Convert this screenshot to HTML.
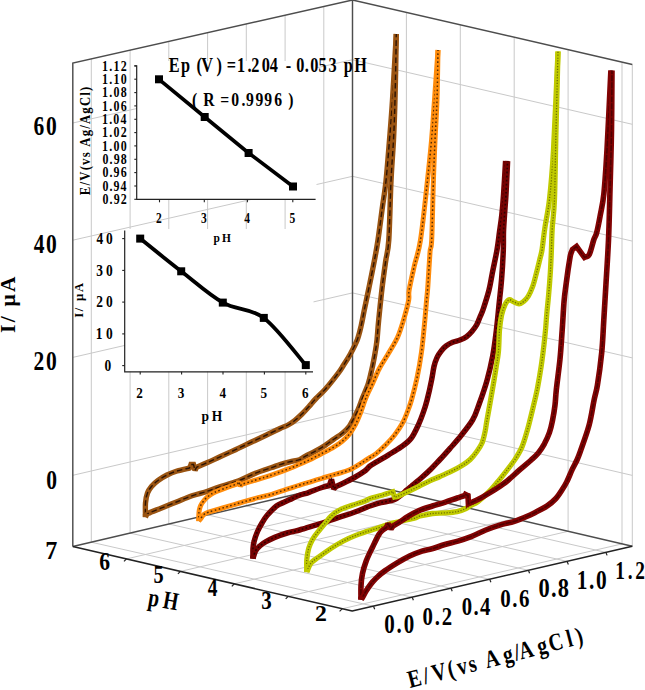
<!DOCTYPE html><html><head><meta charset="utf-8"><style>html,body{margin:0;padding:0;background:#fff;overflow:hidden}svg{display:block}</style></head><body><svg width="645" height="690" viewBox="0 0 645 690" font-family="Liberation Serif" font-weight="bold" style="font-kerning:none"><rect width="645" height="690" fill="#fff"/><g id="grid"><line x1="91.3" y1="58.8" x2="91.3" y2="542.2" stroke="#c9c9c9" stroke-width="1.0"/><line x1="130.1" y1="50.1" x2="130.1" y2="533.1" stroke="#c9c9c9" stroke-width="1.0"/><line x1="168.8" y1="41.4" x2="168.8" y2="524" stroke="#c9c9c9" stroke-width="1.0"/><line x1="207.6" y1="32.6" x2="207.6" y2="514.9" stroke="#c9c9c9" stroke-width="1.0"/><line x1="246.3" y1="23.9" x2="246.3" y2="505.9" stroke="#c9c9c9" stroke-width="1.0"/><line x1="285.1" y1="15.2" x2="285.1" y2="496.8" stroke="#c9c9c9" stroke-width="1.0"/><line x1="323.8" y1="6.5" x2="323.8" y2="487.7" stroke="#c9c9c9" stroke-width="1.0"/><line x1="406.4" y1="12.4" x2="406.4" y2="493.6" stroke="#c9c9c9" stroke-width="1.0"/><line x1="460.3" y1="24.9" x2="460.3" y2="506.2" stroke="#c9c9c9" stroke-width="1.0"/><line x1="514.2" y1="37.3" x2="514.2" y2="518.7" stroke="#c9c9c9" stroke-width="1.0"/><line x1="568.1" y1="49.7" x2="568.1" y2="531.3" stroke="#c9c9c9" stroke-width="1.0"/><line x1="622" y1="62.1" x2="622" y2="543.9" stroke="#c9c9c9" stroke-width="1.0"/><line x1="632.3" y1="64.5" x2="632.3" y2="546.3" stroke="#c9c9c9" stroke-width="1.0"/><polyline points="72.8,475.3 352.5,410.2 632.3,475.4" fill="none" stroke="#c9c9c9" stroke-width="1.0"/><polyline points="72.8,357.4 352.5,292.9 632.3,357.9" fill="none" stroke="#c9c9c9" stroke-width="1.0"/><polyline points="72.8,240.2 352.5,176.3 632.3,241.1" fill="none" stroke="#c9c9c9" stroke-width="1.0"/><polyline points="72.8,123 352.5,59.7 632.3,124.3" fill="none" stroke="#c9c9c9" stroke-width="1.0"/><line x1="91.3" y1="542.2" x2="373.5" y2="606.2" stroke="#c9c9c9" stroke-width="1.0"/><line x1="130.1" y1="533.1" x2="412.2" y2="597.2" stroke="#c9c9c9" stroke-width="1.0"/><line x1="168.8" y1="524" x2="451" y2="588.3" stroke="#c9c9c9" stroke-width="1.0"/><line x1="207.6" y1="514.9" x2="489.7" y2="579.3" stroke="#c9c9c9" stroke-width="1.0"/><line x1="246.3" y1="505.9" x2="528.4" y2="570.3" stroke="#c9c9c9" stroke-width="1.0"/><line x1="285.1" y1="496.8" x2="567.1" y2="561.4" stroke="#c9c9c9" stroke-width="1.0"/><line x1="323.8" y1="487.7" x2="605.9" y2="552.4" stroke="#c9c9c9" stroke-width="1.0"/><line x1="126.5" y1="558.9" x2="406.4" y2="493.6" stroke="#c9c9c9" stroke-width="1.0"/><line x1="180.4" y1="571.4" x2="460.3" y2="506.2" stroke="#c9c9c9" stroke-width="1.0"/><line x1="234.3" y1="583.8" x2="514.2" y2="518.7" stroke="#c9c9c9" stroke-width="1.0"/><line x1="288.2" y1="596.3" x2="568.1" y2="531.3" stroke="#c9c9c9" stroke-width="1.0"/><line x1="342.1" y1="608.8" x2="622" y2="543.9" stroke="#c9c9c9" stroke-width="1.0"/></g><rect x="137" y="61" width="179.5" height="138" fill="#fff"/><rect x="125" y="229" width="188.5" height="142.5" fill="#fff"/><g id="frame"><polyline points="72.8,546.5 72.8,63 352.5,0" fill="none" stroke="#4d4d4d" stroke-width="1.45"/><line x1="352.5" y1="0" x2="632.3" y2="64.5" stroke="#4d4d4d" stroke-width="1.45"/><line x1="352.5" y1="0" x2="352.5" y2="481" stroke="#4d4d4d" stroke-width="1.45"/><line x1="72.8" y1="546.5" x2="352.5" y2="481" stroke="#4d4d4d" stroke-width="1.45"/><line x1="352.5" y1="481" x2="632.3" y2="546.3" stroke="#4d4d4d" stroke-width="1.45"/><polyline points="72.8,546.5 352.2,611.1 632.3,546.3" fill="none" stroke="#222" stroke-width="1.5" stroke-linejoin="round"/><line x1="373.5" y1="606.2" x2="374.7" y2="609.2" stroke="#222" stroke-width="1.2"/><line x1="412.2" y1="597.2" x2="413.4" y2="600.2" stroke="#222" stroke-width="1.2"/><line x1="451" y1="588.3" x2="452.2" y2="591.3" stroke="#222" stroke-width="1.2"/><line x1="489.7" y1="579.3" x2="490.9" y2="582.3" stroke="#222" stroke-width="1.2"/><line x1="528.4" y1="570.3" x2="529.6" y2="573.3" stroke="#222" stroke-width="1.2"/><line x1="567.1" y1="561.4" x2="568.4" y2="564.4" stroke="#222" stroke-width="1.2"/><line x1="605.9" y1="552.4" x2="607.1" y2="555.4" stroke="#222" stroke-width="1.2"/><line x1="126.5" y1="558.9" x2="124" y2="561.4" stroke="#222" stroke-width="1.2"/><line x1="180.4" y1="571.4" x2="177.9" y2="573.9" stroke="#222" stroke-width="1.2"/><line x1="234.3" y1="583.8" x2="231.8" y2="586.3" stroke="#222" stroke-width="1.2"/><line x1="288.2" y1="596.3" x2="285.7" y2="598.8" stroke="#222" stroke-width="1.2"/><line x1="342.1" y1="608.8" x2="339.6" y2="611.3" stroke="#222" stroke-width="1.2"/></g><g id="curves"><path d="M396.3 34 C395.7 45 393.6 82.3 392.5 100 C391.4 117.7 390.6 126.5 389.5 140 C388.4 153.5 387.2 169.6 386 181 C384.8 192.4 383.5 198.9 382.2 208.7 C380.9 218.5 379.3 231.3 378 240 C376.7 248.7 375.8 253.2 374.3 261 C372.8 268.8 370.8 278.8 369.1 287 C367.4 295.2 365.6 303.6 364.3 310 C363 316.4 362.4 320.4 361.2 325.5 C360 330.6 358.9 335.7 357 340.5 C355.1 345.3 352.4 350.2 350.1 354.5 C347.8 358.8 345 362.8 343 366 C341 369.2 340.8 369.8 337.9 373.6 C335 377.4 329.1 384.9 325.5 389 C321.9 393.1 318.8 395.6 316 398.5 C313.2 401.4 311.3 403.9 309 406.5 C306.7 409.1 304.3 411.7 302 414 C299.7 416.3 297.3 418.5 295 420.3 C292.7 422.1 290.5 423.6 288 425 C285.5 426.4 283.6 426.8 280 428.5 C276.4 430.2 271.3 432.7 266.5 435 C261.7 437.3 256.2 439.9 251 442.3 C245.8 444.8 240.7 447.3 235.5 449.7 C230.3 452.1 224.7 454.7 220 456.8 C215.3 458.9 211.4 460.8 207.5 462.5 C203.6 464.2 198.3 466.5 196.5 467.3 C196.2 467.8 195.2 470 195 470.5 C194.8 469.5 193.8 465.5 193.5 464.5 C193.1 464.5 191.4 464.5 191 464.5 C190.8 465.1 189.8 467.4 189.5 468 C187.4 468.5 180.8 469.8 177 471 C173.2 472.2 170.2 473.4 167 475 C163.8 476.6 160.6 478.6 158 480.5 C155.4 482.4 153.2 484.4 151.5 486.5 C149.8 488.6 148.5 490.2 147.5 493 C146.5 495.8 145.8 499 145.5 503 C145.2 507 145.5 514.7 145.5 517" fill="none" stroke="#9a5412" stroke-width="5.4" stroke-linejoin="miter" stroke-miterlimit="2" stroke-linecap="butt"/><path d="M396.3 34 C395.7 45 393.6 82.3 392.5 100 C391.4 117.7 390.6 126.5 389.5 140 C388.4 153.5 387.2 169.6 386 181 C384.8 192.4 383.5 198.9 382.2 208.7 C380.9 218.5 379.3 231.3 378 240 C376.7 248.7 375.8 253.2 374.3 261 C372.8 268.8 370.8 278.8 369.1 287 C367.4 295.2 365.6 303.6 364.3 310 C363 316.4 362.4 320.4 361.2 325.5 C360 330.6 358.9 335.7 357 340.5 C355.1 345.3 352.4 350.2 350.1 354.5 C347.8 358.8 345 362.8 343 366 C341 369.2 340.8 369.8 337.9 373.6 C335 377.4 329.1 384.9 325.5 389 C321.9 393.1 318.8 395.6 316 398.5 C313.2 401.4 311.3 403.9 309 406.5 C306.7 409.1 304.3 411.7 302 414 C299.7 416.3 297.3 418.5 295 420.3 C292.7 422.1 290.5 423.6 288 425 C285.5 426.4 283.6 426.8 280 428.5 C276.4 430.2 271.3 432.7 266.5 435 C261.7 437.3 256.2 439.9 251 442.3 C245.8 444.8 240.7 447.3 235.5 449.7 C230.3 452.1 224.7 454.7 220 456.8 C215.3 458.9 211.4 460.8 207.5 462.5 C203.6 464.2 198.3 466.5 196.5 467.3 C196.2 467.8 195.2 470 195 470.5 C194.8 469.5 193.8 465.5 193.5 464.5 C193.1 464.5 191.4 464.5 191 464.5 C190.8 465.1 189.8 467.4 189.5 468 C187.4 468.5 180.8 469.8 177 471 C173.2 472.2 170.2 473.4 167 475 C163.8 476.6 160.6 478.6 158 480.5 C155.4 482.4 153.2 484.4 151.5 486.5 C149.8 488.6 148.5 490.2 147.5 493 C146.5 495.8 145.8 499 145.5 503 C145.2 507 145.5 514.7 145.5 517" fill="none" stroke="#1a0800" stroke-width="1.4" stroke-dasharray="5.5 3" opacity="0.85"/><path d="M145.5 517 C145.9 516.4 145.4 515 148 513.5 C150.6 512 156.2 510.1 161 508.2 C165.8 506.3 171.3 504.1 176.5 502 C181.7 499.9 186.8 497.6 192 495.8 C197.2 494 202.3 492.9 207.5 491.2 C212.7 489.5 217.6 487.5 223 485.7 C228.4 483.9 234.6 482.3 240 480.2 C245.4 478.1 250.3 475.3 255.5 473.2 C260.7 471.1 266.9 469.2 271 467.8 C275.1 466.4 276.9 465.6 280 464.6 C283.1 463.6 286.6 462.6 289.8 461.8 C293.1 461 296.9 460.6 299.5 459.7 C302.1 458.8 302.5 457.7 305.1 456.3 C307.7 454.9 311.6 453.2 314.9 451.4 C318.2 449.6 321.9 447.4 325 445.4 C328.1 443.4 330.8 441.3 333.7 439.3 C336.6 437.3 339.8 435.5 342.4 433.3 C345 431.1 347.4 428.8 349.3 426.3 C351.2 423.8 352.2 421.2 353.7 418.5 C355.1 415.8 356.5 413.2 358 409.8 C359.5 406.4 360.8 402.4 362.5 398 C364.2 393.6 366.7 388.3 368.3 383.5 C369.9 378.7 370.8 373.8 371.9 369 C373 364.2 373.9 359.3 374.8 354.5 C375.7 349.7 376.4 345.8 377 340 C377.6 334.2 377.8 328.8 378.7 320 C379.6 311.2 381 296.8 382.2 287 C383.4 277.2 384.6 268.8 385.7 261 C386.8 253.2 387.9 253.3 388.8 240 C389.7 226.7 390.2 197.7 391 181 C391.8 164.3 392.8 153.5 393.5 140 C394.2 126.5 394.5 117.7 395 100 C395.5 82.3 396.1 45 396.3 34" fill="none" stroke="#9a5412" stroke-width="5.4" stroke-linejoin="miter" stroke-miterlimit="2" stroke-linecap="butt"/><path d="M145.5 517 C145.9 516.4 145.4 515 148 513.5 C150.6 512 156.2 510.1 161 508.2 C165.8 506.3 171.3 504.1 176.5 502 C181.7 499.9 186.8 497.6 192 495.8 C197.2 494 202.3 492.9 207.5 491.2 C212.7 489.5 217.6 487.5 223 485.7 C228.4 483.9 234.6 482.3 240 480.2 C245.4 478.1 250.3 475.3 255.5 473.2 C260.7 471.1 266.9 469.2 271 467.8 C275.1 466.4 276.9 465.6 280 464.6 C283.1 463.6 286.6 462.6 289.8 461.8 C293.1 461 296.9 460.6 299.5 459.7 C302.1 458.8 302.5 457.7 305.1 456.3 C307.7 454.9 311.6 453.2 314.9 451.4 C318.2 449.6 321.9 447.4 325 445.4 C328.1 443.4 330.8 441.3 333.7 439.3 C336.6 437.3 339.8 435.5 342.4 433.3 C345 431.1 347.4 428.8 349.3 426.3 C351.2 423.8 352.2 421.2 353.7 418.5 C355.1 415.8 356.5 413.2 358 409.8 C359.5 406.4 360.8 402.4 362.5 398 C364.2 393.6 366.7 388.3 368.3 383.5 C369.9 378.7 370.8 373.8 371.9 369 C373 364.2 373.9 359.3 374.8 354.5 C375.7 349.7 376.4 345.8 377 340 C377.6 334.2 377.8 328.8 378.7 320 C379.6 311.2 381 296.8 382.2 287 C383.4 277.2 384.6 268.8 385.7 261 C386.8 253.2 387.9 253.3 388.8 240 C389.7 226.7 390.2 197.7 391 181 C391.8 164.3 392.8 153.5 393.5 140 C394.2 126.5 394.5 117.7 395 100 C395.5 82.3 396.1 45 396.3 34" fill="none" stroke="#1a0800" stroke-width="1.4" stroke-dasharray="5.5 3" opacity="0.85"/><rect x="142.8" y="514" width="5.4" height="3.2" fill="#9a5412"/><path d="M438 50 C437.4 58.3 435.6 84.9 434.5 100 C433.4 115.1 432.7 127.1 431.5 140.6 C430.3 154.1 429.2 164.4 427.4 181 C425.6 197.6 422.7 225.8 420.5 240 C418.3 254.2 416.2 257.6 414.3 266 C412.4 274.4 410 284.7 409.1 290.4 C408.2 296.1 409.5 295.5 408.7 300 C407.9 304.5 406.1 311.2 404.3 317.4 C402.5 323.6 400.4 330.8 397.7 337 C394.9 343.2 390.9 349.2 387.8 354.5 C384.7 359.8 381.6 364.2 379.1 369 C376.6 373.8 374.5 379.5 372.6 383.5 C370.8 387.5 369.3 390.2 368 393 C366.7 395.8 366.2 397 365 400.2 C363.8 403.4 362.3 408.3 360.7 412.4 C359.1 416.5 357.3 421 355.4 424.6 C353.5 428.2 351.5 431.4 349.3 434.1 C347.1 436.9 345 438.9 342.4 441.1 C339.8 443.3 337.1 445.1 333.7 447.2 C330.3 449.3 326.1 451.3 321.8 453.5 C317.5 455.7 312.5 458.4 307.9 460.6 C303.3 462.8 297.6 465.2 294 466.7 C290.4 468.2 290.5 468.1 286.5 469.6 C282.5 471.1 273.7 474.3 270 475.6 C266.3 476.9 267.4 476.5 264.4 477.4 C261.4 478.3 255.8 480 252 481.2 C248.2 482.4 243.2 483.8 241.5 484.3 C241.3 484.6 240.7 485.9 240.5 486.2 C240.2 485.4 238.8 482.4 238.5 481.6 C238.3 482 237.7 483.4 237.5 483.8 C235.8 484.4 231 486 227.2 487.4 C223.4 488.8 217.9 490.9 214.8 492.3 C211.7 493.7 210.5 494.6 208.6 496 C206.7 497.4 204.9 499.3 203.6 501 C202.2 502.7 201.3 504.1 200.5 506 C199.7 507.9 199.3 509.7 199 512.2 C198.7 514.7 198.8 519.5 198.8 521" fill="none" stroke="#ff8c0c" stroke-width="5.0" stroke-linejoin="miter" stroke-miterlimit="2" stroke-linecap="butt"/><path d="M438 50 C437.4 58.3 435.6 84.9 434.5 100 C433.4 115.1 432.7 127.1 431.5 140.6 C430.3 154.1 429.2 164.4 427.4 181 C425.6 197.6 422.7 225.8 420.5 240 C418.3 254.2 416.2 257.6 414.3 266 C412.4 274.4 410 284.7 409.1 290.4 C408.2 296.1 409.5 295.5 408.7 300 C407.9 304.5 406.1 311.2 404.3 317.4 C402.5 323.6 400.4 330.8 397.7 337 C394.9 343.2 390.9 349.2 387.8 354.5 C384.7 359.8 381.6 364.2 379.1 369 C376.6 373.8 374.5 379.5 372.6 383.5 C370.8 387.5 369.3 390.2 368 393 C366.7 395.8 366.2 397 365 400.2 C363.8 403.4 362.3 408.3 360.7 412.4 C359.1 416.5 357.3 421 355.4 424.6 C353.5 428.2 351.5 431.4 349.3 434.1 C347.1 436.9 345 438.9 342.4 441.1 C339.8 443.3 337.1 445.1 333.7 447.2 C330.3 449.3 326.1 451.3 321.8 453.5 C317.5 455.7 312.5 458.4 307.9 460.6 C303.3 462.8 297.6 465.2 294 466.7 C290.4 468.2 290.5 468.1 286.5 469.6 C282.5 471.1 273.7 474.3 270 475.6 C266.3 476.9 267.4 476.5 264.4 477.4 C261.4 478.3 255.8 480 252 481.2 C248.2 482.4 243.2 483.8 241.5 484.3 C241.3 484.6 240.7 485.9 240.5 486.2 C240.2 485.4 238.8 482.4 238.5 481.6 C238.3 482 237.7 483.4 237.5 483.8 C235.8 484.4 231 486 227.2 487.4 C223.4 488.8 217.9 490.9 214.8 492.3 C211.7 493.7 210.5 494.6 208.6 496 C206.7 497.4 204.9 499.3 203.6 501 C202.2 502.7 201.3 504.1 200.5 506 C199.7 507.9 199.3 509.7 199 512.2 C198.7 514.7 198.8 519.5 198.8 521" fill="none" stroke="#2a1400" stroke-width="1.5" stroke-dasharray="1.6 2.4" opacity="0.8"/><path d="M198.8 521 C199.1 520.7 199.7 520 200.5 519 C201.3 518 202.2 515.8 203.6 514.7 C204.9 513.6 205.7 513.2 208.6 512.2 C211.5 511.2 216.9 509.7 221 508.5 C225.1 507.3 229.3 506 233.4 504.8 C237.5 503.6 241.7 502.4 245.8 501.2 C249.9 500 254 498.8 258.2 497.7 C262.4 496.6 266.3 496 271 494.6 C275.7 493.2 281.3 491 286.5 489.3 C291.7 487.6 298.4 485.4 302 484.3 C305.6 483.2 304.6 483.6 307.9 482.6 C311.2 481.6 317.1 479.7 321.8 478.3 C326.5 476.9 331.2 475.6 335.8 474.2 C340.4 472.8 345.1 471.9 349.7 469.8 C354.3 467.7 360.3 463.7 363.7 461.6 C367.1 459.6 367.9 458.8 370 457.5 C372.1 456.2 373.5 455.8 376.2 453.6 C378.9 451.4 383 447.6 386.1 444.5 C389.2 441.4 392.1 438.2 394.8 434.7 C397.5 431.2 400.2 427.3 402.3 423.6 C404.4 419.9 405.7 416.3 407.2 412.4 C408.7 408.5 409.9 405.7 411.5 400 C413.1 394.3 415.3 386 417 378 C418.7 370 420.3 360.6 421.5 352 C422.7 343.4 423.4 334.8 424.3 326.1 C425.2 317.4 426 306.5 426.6 300 C427.2 293.5 427.2 295 427.8 287 C428.4 279 429.4 260 430 252.2 C430.6 244.4 431.1 251.9 431.7 240 C432.3 228.1 432.8 197.6 433.4 181 C433.9 164.4 434.4 154.1 435 140.6 C435.6 127.1 436.5 115.1 437 100 C437.5 84.9 437.8 58.3 438 50" fill="none" stroke="#ff8c0c" stroke-width="5.0" stroke-linejoin="miter" stroke-miterlimit="2" stroke-linecap="butt"/><path d="M198.8 521 C199.1 520.7 199.7 520 200.5 519 C201.3 518 202.2 515.8 203.6 514.7 C204.9 513.6 205.7 513.2 208.6 512.2 C211.5 511.2 216.9 509.7 221 508.5 C225.1 507.3 229.3 506 233.4 504.8 C237.5 503.6 241.7 502.4 245.8 501.2 C249.9 500 254 498.8 258.2 497.7 C262.4 496.6 266.3 496 271 494.6 C275.7 493.2 281.3 491 286.5 489.3 C291.7 487.6 298.4 485.4 302 484.3 C305.6 483.2 304.6 483.6 307.9 482.6 C311.2 481.6 317.1 479.7 321.8 478.3 C326.5 476.9 331.2 475.6 335.8 474.2 C340.4 472.8 345.1 471.9 349.7 469.8 C354.3 467.7 360.3 463.7 363.7 461.6 C367.1 459.6 367.9 458.8 370 457.5 C372.1 456.2 373.5 455.8 376.2 453.6 C378.9 451.4 383 447.6 386.1 444.5 C389.2 441.4 392.1 438.2 394.8 434.7 C397.5 431.2 400.2 427.3 402.3 423.6 C404.4 419.9 405.7 416.3 407.2 412.4 C408.7 408.5 409.9 405.7 411.5 400 C413.1 394.3 415.3 386 417 378 C418.7 370 420.3 360.6 421.5 352 C422.7 343.4 423.4 334.8 424.3 326.1 C425.2 317.4 426 306.5 426.6 300 C427.2 293.5 427.2 295 427.8 287 C428.4 279 429.4 260 430 252.2 C430.6 244.4 431.1 251.9 431.7 240 C432.3 228.1 432.8 197.6 433.4 181 C433.9 164.4 434.4 154.1 435 140.6 C435.6 127.1 436.5 115.1 437 100 C437.5 84.9 437.8 58.3 438 50" fill="none" stroke="#2a1400" stroke-width="1.5" stroke-dasharray="1.6 2.4" opacity="0.8"/><rect x="196.3" y="518" width="5" height="3.2" fill="#ff8c0c"/><path d="M505.6 161 C505.3 166.5 504.2 185 503.6 194 C503 203 502.5 208.7 501.8 215 C501.1 221.3 500.3 226.2 499.5 232 C498.7 237.8 498.2 243.1 497 250 C495.8 256.9 493.6 266.5 492.3 273.2 C491 279.9 490.5 284.1 489 290 C487.5 295.9 484.8 304.3 483.3 308.8 C481.8 313.3 481.1 314.4 480 317 C478.9 319.6 478 322.3 476.7 324.7 C475.4 327.1 473.8 329.2 472.1 331.2 C470.4 333.2 468.5 335.2 466.5 336.7 C464.5 338.2 462.3 339.1 460 340 C457.7 340.9 454.9 341.3 452.6 342.3 C450.3 343.3 447.9 344.6 446 346 C444.1 347.4 442.9 348.8 441.4 350.7 C439.9 352.6 438.4 354.6 437.2 357.2 C436 359.8 434.9 362.7 434 366.5 C433.1 370.3 432.8 374.4 431.6 380 C430.5 385.6 428.5 394.6 427.1 400 C425.7 405.4 424.8 408.3 423.3 412.4 C421.9 416.5 420.4 420.4 418.4 424.8 C416.3 429.2 413.9 434.8 411 438.5 C408.1 442.2 404.7 444.3 401 447 C397.3 449.7 392.7 452.3 388.6 454.8 C384.5 457.3 379.3 460.3 376.2 462.2 C373.1 464.1 372 464.5 370 466 C368 467.5 367 469.4 364.4 471.3 C361.8 473.2 358.5 475.2 354.4 477.5 C350.3 479.8 343 483.3 340 484.8 C337 486.3 337.1 486.1 336.5 486.3 C336.1 486.7 334.2 488.4 333.8 488.8 C333.4 487.2 331.9 481.1 331.5 479.5 C331.1 480.5 329.7 484.5 329.3 485.5 C328.1 485.8 324.5 486.7 322 487.5 C319.5 488.3 316.8 489.3 314.4 490.2 C312 491.1 310.5 491.9 307.9 492.8 C305.3 493.7 301.9 494.4 298.9 495.5 C295.9 496.6 292.6 498.3 290 499.5 C287.4 500.7 285.6 501.4 283.4 502.5 C281.1 503.6 279.2 503.9 276.5 506 C273.8 508.1 269.6 512.5 267.2 515.3 C264.8 518.1 263.6 520.3 262 523 C260.4 525.7 258.8 528.5 257.5 531.5 C256.2 534.5 254.9 538.3 254.2 541.1 C253.4 543.9 253.2 545.6 253 548.5 C252.8 551.4 253 556.8 253 558.5" fill="none" stroke="#760202" stroke-width="5.5" stroke-linejoin="miter" stroke-miterlimit="2" stroke-linecap="butt"/><path d="M505.6 161 C505.3 166.5 504.2 185 503.6 194 C503 203 502.5 208.7 501.8 215 C501.1 221.3 500.3 226.2 499.5 232 C498.7 237.8 498.2 243.1 497 250 C495.8 256.9 493.6 266.5 492.3 273.2 C491 279.9 490.5 284.1 489 290 C487.5 295.9 484.8 304.3 483.3 308.8 C481.8 313.3 481.1 314.4 480 317 C478.9 319.6 478 322.3 476.7 324.7 C475.4 327.1 473.8 329.2 472.1 331.2 C470.4 333.2 468.5 335.2 466.5 336.7 C464.5 338.2 462.3 339.1 460 340 C457.7 340.9 454.9 341.3 452.6 342.3 C450.3 343.3 447.9 344.6 446 346 C444.1 347.4 442.9 348.8 441.4 350.7 C439.9 352.6 438.4 354.6 437.2 357.2 C436 359.8 434.9 362.7 434 366.5 C433.1 370.3 432.8 374.4 431.6 380 C430.5 385.6 428.5 394.6 427.1 400 C425.7 405.4 424.8 408.3 423.3 412.4 C421.9 416.5 420.4 420.4 418.4 424.8 C416.3 429.2 413.9 434.8 411 438.5 C408.1 442.2 404.7 444.3 401 447 C397.3 449.7 392.7 452.3 388.6 454.8 C384.5 457.3 379.3 460.3 376.2 462.2 C373.1 464.1 372 464.5 370 466 C368 467.5 367 469.4 364.4 471.3 C361.8 473.2 358.5 475.2 354.4 477.5 C350.3 479.8 343 483.3 340 484.8 C337 486.3 337.1 486.1 336.5 486.3 C336.1 486.7 334.2 488.4 333.8 488.8 C333.4 487.2 331.9 481.1 331.5 479.5 C331.1 480.5 329.7 484.5 329.3 485.5 C328.1 485.8 324.5 486.7 322 487.5 C319.5 488.3 316.8 489.3 314.4 490.2 C312 491.1 310.5 491.9 307.9 492.8 C305.3 493.7 301.9 494.4 298.9 495.5 C295.9 496.6 292.6 498.3 290 499.5 C287.4 500.7 285.6 501.4 283.4 502.5 C281.1 503.6 279.2 503.9 276.5 506 C273.8 508.1 269.6 512.5 267.2 515.3 C264.8 518.1 263.6 520.3 262 523 C260.4 525.7 258.8 528.5 257.5 531.5 C256.2 534.5 254.9 538.3 254.2 541.1 C253.4 543.9 253.2 545.6 253 548.5 C252.8 551.4 253 556.8 253 558.5" fill="none" stroke="#1a0000" stroke-width="1.6" stroke-dasharray="1.8 2.2" opacity="0.8"/><path d="M253 558.5 C253.4 557.2 254.4 553.1 255.5 551 C256.6 548.9 258.1 547.5 259.8 546 C261.6 544.5 263.5 543.1 266 541.7 C268.5 540.3 271.2 538.9 274.7 537.4 C278.2 535.9 283 534.2 287.1 533 C291.2 531.8 296.5 530.8 299.5 530 C302.5 529.2 301.5 529.3 305 528.3 C308.5 527.2 315.3 525.4 320.5 523.7 C325.7 522 331.9 519.7 336 518.3 C340.1 516.9 341.8 516.4 345 515.4 C348.2 514.4 351.8 513.2 355 512 C358.2 510.8 361.9 509.3 364.4 508.3 C366.9 507.3 367.2 506.9 370 506 C372.8 505.1 376.7 503.7 380.9 502.6 C385.1 501.5 390.7 501.4 395 499.3 C399.3 497.2 404.2 492.2 406.9 490 C409.6 487.8 408.8 488.4 411.3 486.3 C413.8 484.2 418.7 480.2 422 477.3 C425.3 474.4 428 472 431 469 C434 466 436.8 462.9 440 459.5 C443.2 456.1 446.9 451.9 450 448.4 C453.1 444.9 454.8 443.3 458.6 438.6 C462.4 433.9 469.1 425.9 472.6 420 C476.1 414.1 477.1 409.6 479.5 403 C481.9 396.4 484.8 388.2 487 380.4 C489.2 372.6 491.1 364.4 492.7 356 C494.3 347.6 495.3 339 496.4 330 C497.5 321 498.4 310.6 499.3 302.1 C500.2 293.6 500.9 287.7 501.6 279 C502.3 270.3 503 257.8 503.3 250 C503.6 242.2 503.3 237.8 503.5 232 C503.7 226.2 504.1 221.3 504.5 215 C504.9 208.7 505.5 203 506 194 C506.5 185 507.3 166.5 507.6 161" fill="none" stroke="#760202" stroke-width="5.5" stroke-linejoin="miter" stroke-miterlimit="2" stroke-linecap="butt"/><path d="M253 558.5 C253.4 557.2 254.4 553.1 255.5 551 C256.6 548.9 258.1 547.5 259.8 546 C261.6 544.5 263.5 543.1 266 541.7 C268.5 540.3 271.2 538.9 274.7 537.4 C278.2 535.9 283 534.2 287.1 533 C291.2 531.8 296.5 530.8 299.5 530 C302.5 529.2 301.5 529.3 305 528.3 C308.5 527.2 315.3 525.4 320.5 523.7 C325.7 522 331.9 519.7 336 518.3 C340.1 516.9 341.8 516.4 345 515.4 C348.2 514.4 351.8 513.2 355 512 C358.2 510.8 361.9 509.3 364.4 508.3 C366.9 507.3 367.2 506.9 370 506 C372.8 505.1 376.7 503.7 380.9 502.6 C385.1 501.5 390.7 501.4 395 499.3 C399.3 497.2 404.2 492.2 406.9 490 C409.6 487.8 408.8 488.4 411.3 486.3 C413.8 484.2 418.7 480.2 422 477.3 C425.3 474.4 428 472 431 469 C434 466 436.8 462.9 440 459.5 C443.2 456.1 446.9 451.9 450 448.4 C453.1 444.9 454.8 443.3 458.6 438.6 C462.4 433.9 469.1 425.9 472.6 420 C476.1 414.1 477.1 409.6 479.5 403 C481.9 396.4 484.8 388.2 487 380.4 C489.2 372.6 491.1 364.4 492.7 356 C494.3 347.6 495.3 339 496.4 330 C497.5 321 498.4 310.6 499.3 302.1 C500.2 293.6 500.9 287.7 501.6 279 C502.3 270.3 503 257.8 503.3 250 C503.6 242.2 503.3 237.8 503.5 232 C503.7 226.2 504.1 221.3 504.5 215 C504.9 208.7 505.5 203 506 194 C506.5 185 507.3 166.5 507.6 161" fill="none" stroke="#1a0000" stroke-width="1.6" stroke-dasharray="1.8 2.2" opacity="0.8"/><rect x="250.2" y="555.5" width="5.5" height="3.2" fill="#760202"/><path d="M558 51.5 C557.2 67.9 554.9 125.4 553.5 150 C552.1 174.6 551 185.9 549.5 199 C548 212.1 546 220 544.8 228.5 C543.5 237 542.8 244.9 542 250 C541.2 255.1 540.7 255.4 539.8 259.3 C538.9 263.2 537.5 268.8 536.4 273.2 C535.2 277.6 534.3 282 532.9 285.9 C531.5 289.8 529.8 293.7 528.2 296.3 C526.7 298.9 525.1 300.3 523.6 301.6 C522.1 302.9 520.7 303.9 519 303.9 C517.3 303.9 514.9 302.3 513.2 301.6 C511.6 300.9 510.5 299.3 509.1 299.8 C507.8 300.3 506.4 302 505.1 304.5 C503.9 307 502.5 310.6 501.6 314.9 C500.7 319.1 500 323.8 499.5 330 C499 336.2 499 345.8 498.4 352.1 C497.8 358.4 496.9 362 496 368 C495.1 374 494.2 379.3 492.7 388 C491.2 396.7 488.3 412.7 487 420 C485.7 427.3 485.9 428.1 485 432 C484.1 435.9 483.3 440 481.9 443.3 C480.5 446.6 478.4 449.3 476.5 452 C474.6 454.7 472.6 457.2 470.2 459.5 C467.8 461.8 465.1 463.6 462 465.5 C458.9 467.4 455.3 469.4 451.6 471.2 C447.9 473 443.6 474.9 440 476.5 C436.4 478.1 433.2 479.3 429.7 480.9 C426.2 482.5 422.5 484.5 418.9 486.3 C415.3 488.1 411.6 490 408 491.7 C404.4 493.4 398.9 495.8 397.1 496.6 C396.7 496.7 395 496.9 394.6 497 C394.3 496.1 393.1 492.6 392.8 491.7 C390.8 492.3 384.7 494.4 380.9 495.5 C377.1 496.6 372.8 497.7 370 498.6 C367.2 499.6 367.4 500.1 364.4 501.2 C361.4 502.3 356.2 503.8 352.1 505.3 C348 506.8 343.2 508.2 339.7 510 C336.2 511.8 333.5 513.9 331 516.2 C328.5 518.5 326.9 521.1 324.8 523.6 C322.7 526.1 320.7 528.4 318.6 531.1 C316.5 533.8 314 536.8 312.4 539.7 C310.8 542.6 309.6 545.1 308.7 548.4 C307.8 551.7 307.1 555.7 306.8 559.6 C306.5 563.5 306.8 569.9 306.8 572" fill="none" stroke="#c0ca00" stroke-width="5.3" stroke-linejoin="miter" stroke-miterlimit="2" stroke-linecap="butt"/><path d="M558 51.5 C557.2 67.9 554.9 125.4 553.5 150 C552.1 174.6 551 185.9 549.5 199 C548 212.1 546 220 544.8 228.5 C543.5 237 542.8 244.9 542 250 C541.2 255.1 540.7 255.4 539.8 259.3 C538.9 263.2 537.5 268.8 536.4 273.2 C535.2 277.6 534.3 282 532.9 285.9 C531.5 289.8 529.8 293.7 528.2 296.3 C526.7 298.9 525.1 300.3 523.6 301.6 C522.1 302.9 520.7 303.9 519 303.9 C517.3 303.9 514.9 302.3 513.2 301.6 C511.6 300.9 510.5 299.3 509.1 299.8 C507.8 300.3 506.4 302 505.1 304.5 C503.9 307 502.5 310.6 501.6 314.9 C500.7 319.1 500 323.8 499.5 330 C499 336.2 499 345.8 498.4 352.1 C497.8 358.4 496.9 362 496 368 C495.1 374 494.2 379.3 492.7 388 C491.2 396.7 488.3 412.7 487 420 C485.7 427.3 485.9 428.1 485 432 C484.1 435.9 483.3 440 481.9 443.3 C480.5 446.6 478.4 449.3 476.5 452 C474.6 454.7 472.6 457.2 470.2 459.5 C467.8 461.8 465.1 463.6 462 465.5 C458.9 467.4 455.3 469.4 451.6 471.2 C447.9 473 443.6 474.9 440 476.5 C436.4 478.1 433.2 479.3 429.7 480.9 C426.2 482.5 422.5 484.5 418.9 486.3 C415.3 488.1 411.6 490 408 491.7 C404.4 493.4 398.9 495.8 397.1 496.6 C396.7 496.7 395 496.9 394.6 497 C394.3 496.1 393.1 492.6 392.8 491.7 C390.8 492.3 384.7 494.4 380.9 495.5 C377.1 496.6 372.8 497.7 370 498.6 C367.2 499.6 367.4 500.1 364.4 501.2 C361.4 502.3 356.2 503.8 352.1 505.3 C348 506.8 343.2 508.2 339.7 510 C336.2 511.8 333.5 513.9 331 516.2 C328.5 518.5 326.9 521.1 324.8 523.6 C322.7 526.1 320.7 528.4 318.6 531.1 C316.5 533.8 314 536.8 312.4 539.7 C310.8 542.6 309.6 545.1 308.7 548.4 C307.8 551.7 307.1 555.7 306.8 559.6 C306.5 563.5 306.8 569.9 306.8 572" fill="none" stroke="#4a4a00" stroke-width="1.3" stroke-dasharray="1.2 1.6" opacity="0.7"/><path d="M306.8 572 C307.5 570.5 309 565.5 311 563 C313 560.5 315.3 559.5 318.6 557.1 C321.9 554.7 326.9 551.1 331 548.4 C335.1 545.7 339.3 543.2 343.4 541 C347.5 538.8 351.7 537 355.8 535.4 C359.9 533.8 364.2 532.5 368.2 531.1 C372.2 529.8 376.1 528.6 380 527.3 C383.9 526 386.1 524.8 391.7 523.3 C397.3 521.8 408.7 519.7 413.4 518.5 C418.1 517.3 416.8 516.8 420 516 C423.2 515.2 428.3 514 432.4 513.5 C436.5 513 440.7 513.2 444.8 512.9 C448.9 512.6 453.7 512.3 457.2 511.6 C460.7 510.9 463.8 509.5 465.9 508.5 C468 507.5 468 507 470 505.8 C472 504.6 474.9 503.8 478 501.5 C481.1 499.2 485.4 495.4 488.6 492.2 C491.8 489 494.2 486 497.3 482.3 C500.4 478.6 504.3 473.6 507.2 469.9 C510.1 466.2 512.2 463.7 514.7 459.9 C517.2 456.1 519.9 451.9 522 446.9 C524.1 441.9 525.5 436.7 527.4 430 C529.3 423.3 531.5 413.8 533.2 406.8 C534.9 399.8 536.2 394.8 537.5 388 C538.8 381.2 540.1 373.4 541.2 366.2 C542.3 358.9 543.3 350.5 544 344.5 C544.7 338.5 545 335.1 545.5 330 C546 324.9 546.3 319.3 546.8 313.7 C547.3 308.1 547.9 303.1 548.5 296.3 C549.1 289.6 549.8 280.9 550.3 273.2 C550.8 265.5 551.1 257.4 551.4 250 C551.7 242.6 551.7 237 552.2 228.5 C552.7 220 553.9 215.4 554.5 199 C555.1 182.6 555.4 154.6 556 130 C556.6 105.4 557.7 64.6 558 51.5" fill="none" stroke="#c0ca00" stroke-width="5.3" stroke-linejoin="miter" stroke-miterlimit="2" stroke-linecap="butt"/><path d="M306.8 572 C307.5 570.5 309 565.5 311 563 C313 560.5 315.3 559.5 318.6 557.1 C321.9 554.7 326.9 551.1 331 548.4 C335.1 545.7 339.3 543.2 343.4 541 C347.5 538.8 351.7 537 355.8 535.4 C359.9 533.8 364.2 532.5 368.2 531.1 C372.2 529.8 376.1 528.6 380 527.3 C383.9 526 386.1 524.8 391.7 523.3 C397.3 521.8 408.7 519.7 413.4 518.5 C418.1 517.3 416.8 516.8 420 516 C423.2 515.2 428.3 514 432.4 513.5 C436.5 513 440.7 513.2 444.8 512.9 C448.9 512.6 453.7 512.3 457.2 511.6 C460.7 510.9 463.8 509.5 465.9 508.5 C468 507.5 468 507 470 505.8 C472 504.6 474.9 503.8 478 501.5 C481.1 499.2 485.4 495.4 488.6 492.2 C491.8 489 494.2 486 497.3 482.3 C500.4 478.6 504.3 473.6 507.2 469.9 C510.1 466.2 512.2 463.7 514.7 459.9 C517.2 456.1 519.9 451.9 522 446.9 C524.1 441.9 525.5 436.7 527.4 430 C529.3 423.3 531.5 413.8 533.2 406.8 C534.9 399.8 536.2 394.8 537.5 388 C538.8 381.2 540.1 373.4 541.2 366.2 C542.3 358.9 543.3 350.5 544 344.5 C544.7 338.5 545 335.1 545.5 330 C546 324.9 546.3 319.3 546.8 313.7 C547.3 308.1 547.9 303.1 548.5 296.3 C549.1 289.6 549.8 280.9 550.3 273.2 C550.8 265.5 551.1 257.4 551.4 250 C551.7 242.6 551.7 237 552.2 228.5 C552.7 220 553.9 215.4 554.5 199 C555.1 182.6 555.4 154.6 556 130 C556.6 105.4 557.7 64.6 558 51.5" fill="none" stroke="#4a4a00" stroke-width="1.3" stroke-dasharray="1.2 1.6" opacity="0.7"/><rect x="304.2" y="569" width="5.3" height="3.2" fill="#c0ca00"/><path d="M610.9 70.5 C610.2 83.8 608.2 129.5 607 150 C605.8 170.5 605 182.7 603.9 193.5 C602.8 204.3 601.5 208.4 600.3 215 C599.1 221.6 597.7 228.8 596.6 233 C595.5 237.2 594.9 236.4 593.7 240 C592.5 243.6 590.8 251.6 589.3 254.5 C587.8 257.4 585.2 256.8 584.4 257.3 C583.1 255.5 577.8 248.3 576.5 246.5 C575.8 247 573.2 249 572.5 249.5 C572.2 250.4 571.2 251.7 570.5 255 C569.8 258.3 568.9 264.5 568.1 269.5 C567.4 274.5 566.7 279.6 566 285 C565.3 290.4 564.6 294.5 564 302 C563.4 309.5 562.9 320.5 562.2 330 C561.5 339.5 561 349 560 359 C559 369 557.1 382.3 556.3 390 C555.5 397.7 555.6 400.1 555 405.2 C554.4 410.3 553.4 415.9 552.5 420.5 C551.6 425.1 550.8 428.7 549.4 432.6 C548 436.5 546.2 440.4 544.4 443.8 C542.5 447.2 540.5 450.3 538.3 453 C536.1 455.7 534.3 457.2 531.2 460 C528.1 462.8 523.6 466.4 519.6 469.9 C515.6 473.4 511.3 477.7 507.2 481 C503.1 484.3 498.9 487 494.8 489.7 C490.7 492.4 485.6 495.3 482.4 497.1 C479.2 498.9 478.1 499.4 475.8 500.5 C473.5 501.6 469.6 503.2 468.4 503.8 C468.3 502.4 468.1 496.9 468 495.5 C467.6 495.3 465.9 494.7 465.5 494.5 C465.4 494.7 464.8 495.3 464.7 495.5 C463.4 495.9 460.5 496.9 457.2 498 C453.9 499.1 448.9 501 444.8 502.3 C440.7 503.6 436.7 504.6 432.4 506 C428.1 507.4 423 508.9 418.9 510.6 C414.8 512.4 411.3 514.5 408 516.5 C404.7 518.5 401.7 520.7 399.2 522.3 C396.7 523.9 394 525.4 393 526 C392.7 526.5 391.3 528.5 391 529 C390.5 528.1 388.5 524.4 388 523.5 C387.8 524.2 386.8 526.8 386.5 527.5 C385.8 528 383.8 529 382.5 530.3 C381.2 531.5 380.3 532.1 378.6 535 C376.9 537.9 374.5 543.1 372.4 547.4 C370.3 551.7 367.8 556.7 366.2 561 C364.6 565.3 363.4 569.2 362.5 573.4 C361.6 577.6 361.2 581.6 361 586 C360.8 590.4 361 597.2 361 599.5" fill="none" stroke="#820303" stroke-width="5.6" stroke-linejoin="miter" stroke-miterlimit="2" stroke-linecap="butt"/><path d="M610.9 70.5 C610.2 83.8 608.2 129.5 607 150 C605.8 170.5 605 182.7 603.9 193.5 C602.8 204.3 601.5 208.4 600.3 215 C599.1 221.6 597.7 228.8 596.6 233 C595.5 237.2 594.9 236.4 593.7 240 C592.5 243.6 590.8 251.6 589.3 254.5 C587.8 257.4 585.2 256.8 584.4 257.3 C583.1 255.5 577.8 248.3 576.5 246.5 C575.8 247 573.2 249 572.5 249.5 C572.2 250.4 571.2 251.7 570.5 255 C569.8 258.3 568.9 264.5 568.1 269.5 C567.4 274.5 566.7 279.6 566 285 C565.3 290.4 564.6 294.5 564 302 C563.4 309.5 562.9 320.5 562.2 330 C561.5 339.5 561 349 560 359 C559 369 557.1 382.3 556.3 390 C555.5 397.7 555.6 400.1 555 405.2 C554.4 410.3 553.4 415.9 552.5 420.5 C551.6 425.1 550.8 428.7 549.4 432.6 C548 436.5 546.2 440.4 544.4 443.8 C542.5 447.2 540.5 450.3 538.3 453 C536.1 455.7 534.3 457.2 531.2 460 C528.1 462.8 523.6 466.4 519.6 469.9 C515.6 473.4 511.3 477.7 507.2 481 C503.1 484.3 498.9 487 494.8 489.7 C490.7 492.4 485.6 495.3 482.4 497.1 C479.2 498.9 478.1 499.4 475.8 500.5 C473.5 501.6 469.6 503.2 468.4 503.8 C468.3 502.4 468.1 496.9 468 495.5 C467.6 495.3 465.9 494.7 465.5 494.5 C465.4 494.7 464.8 495.3 464.7 495.5 C463.4 495.9 460.5 496.9 457.2 498 C453.9 499.1 448.9 501 444.8 502.3 C440.7 503.6 436.7 504.6 432.4 506 C428.1 507.4 423 508.9 418.9 510.6 C414.8 512.4 411.3 514.5 408 516.5 C404.7 518.5 401.7 520.7 399.2 522.3 C396.7 523.9 394 525.4 393 526 C392.7 526.5 391.3 528.5 391 529 C390.5 528.1 388.5 524.4 388 523.5 C387.8 524.2 386.8 526.8 386.5 527.5 C385.8 528 383.8 529 382.5 530.3 C381.2 531.5 380.3 532.1 378.6 535 C376.9 537.9 374.5 543.1 372.4 547.4 C370.3 551.7 367.8 556.7 366.2 561 C364.6 565.3 363.4 569.2 362.5 573.4 C361.6 577.6 361.2 581.6 361 586 C360.8 590.4 361 597.2 361 599.5" fill="none" stroke="#3a0000" stroke-width="1.6" stroke-dasharray="6 1" opacity="0.7"/><path d="M361 599.5 C361.2 599.2 361.6 599.1 362.5 597.6 C363.4 596.1 364.6 593.4 366.2 590.8 C367.8 588.2 370.3 584.6 372.4 582.1 C374.5 579.6 376.5 577.8 378.6 575.9 C380.7 574 381.7 573.1 384.8 570.9 C387.9 568.7 393.1 565.4 397.2 562.9 C401.3 560.4 405.5 558 409.6 556 C413.7 554 418.3 552.3 422 551.1 C425.7 549.9 428.3 549.8 432 548.8 C435.7 547.8 439.7 546.1 444 544.8 C448.3 543.5 453.3 542.5 457.9 541.1 C462.5 539.7 467.1 538.1 471.8 536.3 C476.5 534.4 481.2 531.9 485.8 530 C490.4 528.1 495 526.5 499.7 525.1 C504.4 523.7 509.9 522.7 513.7 521.6 C517.5 520.5 518.9 519.8 522.4 518.3 C525.9 516.8 530.7 514.8 534.8 512.7 C538.9 510.6 543.7 508.3 547.2 505.9 C550.7 503.5 553.4 501.2 555.9 498.5 C558.4 495.8 560.2 492.7 562.1 489.8 C564 486.9 565.5 484.4 567.1 481.1 C568.8 477.8 570.4 473.4 572 469.9 C573.6 466.4 575.6 463.1 577 460 C578.4 456.9 578.4 456.9 580.4 451.2 C582.4 445.5 586.7 434.1 589 425.6 C591.3 417.1 592.7 406.7 594.1 400 C595.5 393.3 596.1 393.1 597.4 385.2 C598.7 377.3 600.6 363.5 601.7 352.6 C602.8 341.7 603.1 331.5 603.8 320 C604.5 308.5 605.2 296.8 606 283.5 C606.8 270.2 607.8 255.6 608.5 240 C609.2 224.4 609.5 208.3 610 190 C610.5 171.7 611.2 149.9 611.5 130 C611.8 110.1 611.9 80.4 612 70.5" fill="none" stroke="#820303" stroke-width="5.6" stroke-linejoin="miter" stroke-miterlimit="2" stroke-linecap="butt"/><path d="M361 599.5 C361.2 599.2 361.6 599.1 362.5 597.6 C363.4 596.1 364.6 593.4 366.2 590.8 C367.8 588.2 370.3 584.6 372.4 582.1 C374.5 579.6 376.5 577.8 378.6 575.9 C380.7 574 381.7 573.1 384.8 570.9 C387.9 568.7 393.1 565.4 397.2 562.9 C401.3 560.4 405.5 558 409.6 556 C413.7 554 418.3 552.3 422 551.1 C425.7 549.9 428.3 549.8 432 548.8 C435.7 547.8 439.7 546.1 444 544.8 C448.3 543.5 453.3 542.5 457.9 541.1 C462.5 539.7 467.1 538.1 471.8 536.3 C476.5 534.4 481.2 531.9 485.8 530 C490.4 528.1 495 526.5 499.7 525.1 C504.4 523.7 509.9 522.7 513.7 521.6 C517.5 520.5 518.9 519.8 522.4 518.3 C525.9 516.8 530.7 514.8 534.8 512.7 C538.9 510.6 543.7 508.3 547.2 505.9 C550.7 503.5 553.4 501.2 555.9 498.5 C558.4 495.8 560.2 492.7 562.1 489.8 C564 486.9 565.5 484.4 567.1 481.1 C568.8 477.8 570.4 473.4 572 469.9 C573.6 466.4 575.6 463.1 577 460 C578.4 456.9 578.4 456.9 580.4 451.2 C582.4 445.5 586.7 434.1 589 425.6 C591.3 417.1 592.7 406.7 594.1 400 C595.5 393.3 596.1 393.1 597.4 385.2 C598.7 377.3 600.6 363.5 601.7 352.6 C602.8 341.7 603.1 331.5 603.8 320 C604.5 308.5 605.2 296.8 606 283.5 C606.8 270.2 607.8 255.6 608.5 240 C609.2 224.4 609.5 208.3 610 190 C610.5 171.7 611.2 149.9 611.5 130 C611.8 110.1 611.9 80.4 612 70.5" fill="none" stroke="#3a0000" stroke-width="1.6" stroke-dasharray="6 1" opacity="0.7"/><rect x="358.2" y="596.5" width="5.6" height="3.2" fill="#820303"/></g><polyline points="134.4,65.9 136.7,65.9 136.7,199.3 315.6,199.3" fill="none" stroke="#222" stroke-width="1.2"/><line x1="134.3" y1="199.3" x2="136.7" y2="199.3" stroke="#222" stroke-width="1.1"/><line x1="134.3" y1="186" x2="136.7" y2="186" stroke="#222" stroke-width="1.1"/><line x1="134.3" y1="172.6" x2="136.7" y2="172.6" stroke="#222" stroke-width="1.1"/><line x1="134.3" y1="159.3" x2="136.7" y2="159.3" stroke="#222" stroke-width="1.1"/><line x1="134.3" y1="145.9" x2="136.7" y2="145.9" stroke="#222" stroke-width="1.1"/><line x1="134.3" y1="132.6" x2="136.7" y2="132.6" stroke="#222" stroke-width="1.1"/><line x1="134.3" y1="119.3" x2="136.7" y2="119.3" stroke="#222" stroke-width="1.1"/><line x1="134.3" y1="105.9" x2="136.7" y2="105.9" stroke="#222" stroke-width="1.1"/><line x1="134.3" y1="92.6" x2="136.7" y2="92.6" stroke="#222" stroke-width="1.1"/><line x1="134.3" y1="79.2" x2="136.7" y2="79.2" stroke="#222" stroke-width="1.1"/><line x1="134.3" y1="65.9" x2="136.7" y2="65.9" stroke="#222" stroke-width="1.1"/><line x1="159.5" y1="199.3" x2="159.5" y2="202.3" stroke="#222" stroke-width="1.1"/><line x1="204.3" y1="199.3" x2="204.3" y2="202.3" stroke="#222" stroke-width="1.1"/><line x1="247.4" y1="199.3" x2="247.4" y2="202.3" stroke="#222" stroke-width="1.1"/><line x1="292.8" y1="199.3" x2="292.8" y2="202.3" stroke="#222" stroke-width="1.1"/><text transform="translate(102.42 204.1) scale(0.82 1)" font-size="14.6" textLength="29.7" lengthAdjust="spacing" >0.92</text><text transform="translate(102.42 190.76) scale(0.82 1)" font-size="14.6" textLength="29.41" lengthAdjust="spacing" >0.94</text><text transform="translate(102.42 177.42) scale(0.82 1)" font-size="14.6" textLength="29.56" lengthAdjust="spacing" >0.96</text><text transform="translate(102.42 164.08) scale(0.82 1)" font-size="14.6" textLength="29.63" lengthAdjust="spacing" >0.98</text><text transform="translate(101.94 150.74) scale(0.82 1)" font-size="14.6" textLength="30.29" lengthAdjust="spacing" >1.00</text><text transform="translate(101.94 137.4) scale(0.82 1)" font-size="14.6" textLength="30.29" lengthAdjust="spacing" >1.02</text><text transform="translate(101.94 124.06) scale(0.82 1)" font-size="14.6" textLength="30" lengthAdjust="spacing" >1.04</text><text transform="translate(101.94 110.72) scale(0.82 1)" font-size="14.6" textLength="30.14" lengthAdjust="spacing" >1.06</text><text transform="translate(101.94 97.38) scale(0.82 1)" font-size="14.6" textLength="30.22" lengthAdjust="spacing" >1.08</text><text transform="translate(101.94 84.04) scale(0.82 1)" font-size="14.6" textLength="30.29" lengthAdjust="spacing" >1.10</text><text transform="translate(101.94 70.7) scale(0.82 1)" font-size="14.6" textLength="30.29" lengthAdjust="spacing" >1.12</text><text transform="translate(155.94 222.8) scale(0.82 1)" font-size="14" >2</text><text transform="translate(200.9 222.8) scale(0.82 1)" font-size="14" >3</text><text transform="translate(244.33 222.8) scale(0.82 1)" font-size="14" >4</text><text transform="translate(289.44 222.8) scale(0.82 1)" font-size="14" >5</text><text transform="translate(213.59 241.6) scale(0.85 1)" font-size="13.5" textLength="20.49" lengthAdjust="spacing" >pH</text><text transform="translate(90.4 195.19) rotate(-90) scale(0.85 1)" font-size="15" textLength="127.69" lengthAdjust="spacing" >E/V(vs Ag/AgCl)</text><polyline points="159,79.3 204.7,117 248.6,153 293,186.5" fill="none" stroke="#000" stroke-width="3.6"/><rect x="155" y="75.3" width="8" height="8" fill="#000"/><rect x="200.7" y="113" width="8" height="8" fill="#000"/><rect x="244.6" y="149" width="8" height="8" fill="#000"/><rect x="289" y="182.5" width="8" height="8" fill="#000"/><text transform="translate(168.76 71.7) scale(0.8 1)" font-size="20.3" x="0 15.23 34.77 40.48 59.57 72.54 85.18 98.52 102.99 116.24 126.12 146.22 159.37 170.02 176.99 187.12 199.84 218.6 231.75" y="0" >Ep(V)=1.204-0.053pH</text><text transform="translate(191.89 106) scale(0.8 1)" font-size="19.6" x="0 14.34 35.53 49.1 62 67.77 79.39 90.52 103.07 120.54" y="0" >(R=0.9996)</text><polyline points="124.7,230.6 124.7,371.8 313,371.8" fill="none" stroke="#222" stroke-width="1.2"/><line x1="122.2" y1="365.6" x2="124.7" y2="365.6" stroke="#222" stroke-width="1.1"/><text transform="translate(104.46 370.9) scale(0.85 1)" font-size="15.8" >0</text><line x1="122.2" y1="333.9" x2="124.7" y2="333.9" stroke="#222" stroke-width="1.1"/><text transform="translate(95.73 339.15) scale(0.85 1)" font-size="15.8" textLength="20.13" lengthAdjust="spacing" >10</text><line x1="122.2" y1="302.1" x2="124.7" y2="302.1" stroke="#222" stroke-width="1.1"/><text transform="translate(96.26 307.4) scale(0.85 1)" font-size="15.8" textLength="19.5" lengthAdjust="spacing" >20</text><line x1="122.2" y1="270.4" x2="124.7" y2="270.4" stroke="#222" stroke-width="1.1"/><text transform="translate(96.33 275.65) scale(0.85 1)" font-size="15.8" textLength="19.42" lengthAdjust="spacing" >30</text><line x1="122.2" y1="238.6" x2="124.7" y2="238.6" stroke="#222" stroke-width="1.1"/><text transform="translate(96.6 243.9) scale(0.85 1)" font-size="15.8" textLength="19.1" lengthAdjust="spacing" >40</text><line x1="140.2" y1="371.8" x2="140.2" y2="374.6" stroke="#222" stroke-width="1.1"/><text transform="translate(136.37 398) scale(0.85 1)" font-size="15.5" >2</text><line x1="181.6" y1="371.8" x2="181.6" y2="374.6" stroke="#222" stroke-width="1.1"/><text transform="translate(177.84 398) scale(0.85 1)" font-size="15.5" >3</text><line x1="223" y1="371.8" x2="223" y2="374.6" stroke="#222" stroke-width="1.1"/><text transform="translate(219.5 398) scale(0.85 1)" font-size="15.5" >4</text><line x1="264.4" y1="371.8" x2="264.4" y2="374.6" stroke="#222" stroke-width="1.1"/><text transform="translate(260.57 398) scale(0.85 1)" font-size="15.5" >5</text><line x1="305.8" y1="371.8" x2="305.8" y2="374.6" stroke="#222" stroke-width="1.1"/><text transform="translate(302.04 398) scale(0.85 1)" font-size="15.5" >6</text><text transform="translate(201.47 420.5) scale(0.9 1)" font-size="15" textLength="23.08" lengthAdjust="spacing" >pH</text><text transform="translate(83 317.84) rotate(-90)" font-size="12.6" textLength="34.93" lengthAdjust="spacing" >I/ μA</text><path d="M140.2 238.6 C147 244.1 167.4 260.6 181.2 271.3 C195 282 209 294.8 222.8 302.6 C236.6 310.4 250 307.5 263.8 317.9 C277.6 328.3 298.8 357.2 305.8 365.1" fill="none" stroke="#000" stroke-width="3.8"/><rect x="136.2" y="234.6" width="8" height="8" fill="#000"/><rect x="177.2" y="267.3" width="8" height="8" fill="#000"/><rect x="218.8" y="298.6" width="8" height="8" fill="#000"/><rect x="259.8" y="313.9" width="8" height="8" fill="#000"/><rect x="301.8" y="361.1" width="8" height="8" fill="#000"/><text transform="translate(45.16 558.5) scale(0.94 1)" font-size="25.71" >7</text><text transform="translate(99.24 570.3) scale(0.88 1)" font-size="24.51" >6</text><text transform="translate(153.49 582.7) scale(0.79 1)" font-size="25.71" >5</text><text transform="translate(207.71 595.7) scale(0.76 1)" font-size="25.56" >4</text><text transform="translate(261.27 608.7) scale(0.82 1)" font-size="25.56" >3</text><text transform="translate(315.05 620.7) scale(0.99 1)" font-size="24.06" >2</text><text transform="translate(147.21 605.17) rotate(10) scale(0.76 1)" font-size="25.5" x="0 19.61" y="0" >pH</text><text transform="translate(384.16 633.4) scale(0.8 1)" font-size="26.27" textLength="37.73" lengthAdjust="spacing" >0.0</text><text transform="translate(422.57 624.5) scale(0.8 1)" font-size="25.97" textLength="36.95" lengthAdjust="spacing" >0.2</text><text transform="translate(461.87 615.1) scale(0.8 1)" font-size="25.97" textLength="35.56" lengthAdjust="spacing" >0.4</text><text transform="translate(500.16 606.8) scale(0.8 1)" font-size="26.12" textLength="36.7" lengthAdjust="spacing" >0.6</text><text transform="translate(538.4 597.4) scale(0.8 1)" font-size="28.06" textLength="38.35" lengthAdjust="spacing" >0.8</text><text transform="translate(576.79 588.8) scale(0.8 1)" font-size="26.72" textLength="37.33" lengthAdjust="spacing" >1.0</text><text transform="translate(615.35 579.4) scale(0.8 1)" font-size="24.18" textLength="37.03" lengthAdjust="spacing" >1.2</text><text transform="translate(410.11 688.07) rotate(-14.5) scale(0.8 1)" font-size="24.7" x="0 19.62 31.12 51.26 63.5 78 99.37 122.63 136.99 143.12 166.75 181.64 204.88 216.75" y="0" >E/V(vsAg/AgCl)</text><text transform="translate(33.55 135.4) scale(0.8 1)" font-size="26.9" textLength="29.14" lengthAdjust="spacing" >60</text><text transform="translate(33.68 252.6) scale(0.8 1)" font-size="26.9" textLength="28.98" lengthAdjust="spacing" >40</text><text transform="translate(33.44 369.8) scale(0.8 1)" font-size="26.9" textLength="29.28" lengthAdjust="spacing" >20</text><text transform="translate(46.14 488.5) scale(0.8 1)" font-size="26.9" >0</text><text transform="translate(15.1 332.95) rotate(-90)" font-size="21.5" textLength="56.51" lengthAdjust="spacing" >I/ μA</text></svg></body></html>
